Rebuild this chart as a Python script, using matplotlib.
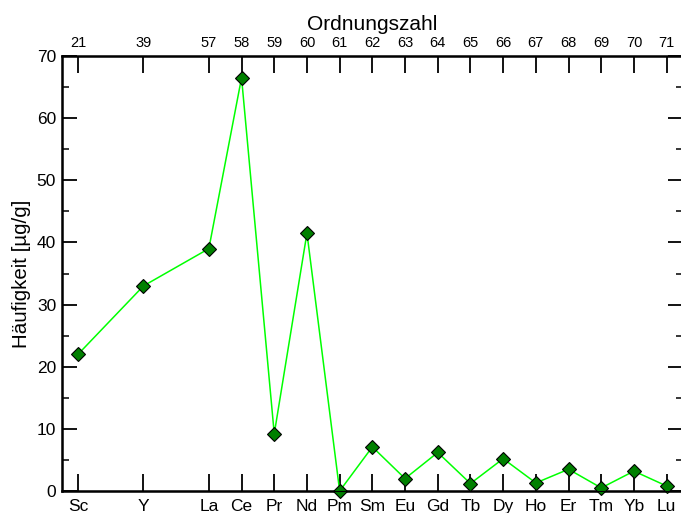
import matplotlib; matplotlib.use("Agg")
import matplotlib.pyplot as plt
from matplotlib.ticker import MultipleLocator

plt.rcParams["font.family"] = ["Liberation Sans", "DejaVu Sans"]

# data
elements = ["Sc", "Y", "La", "Ce", "Pr", "Nd", "Pm", "Sm", "Eu", "Gd", "Tb", "Dy", "Ho", "Er", "Tm", "Yb", "Lu"]
ordnungszahl = ["21", "39", "57", "58", "59", "60", "61", "62", "63", "64", "65", "66", "67", "68", "69", "70", "71"]
positions = [0, 2, 4, 5, 6, 7, 8, 9, 10, 11, 12, 13, 14, 15, 16, 17, 18]
haeufigkeit = [22, 33, 39, 66.5, 9.2, 41.5, 0, 7.1, 2.0, 6.2, 1.2, 5.2, 1.3, 3.5, 0.5, 3.2, 0.8]

fig = plt.figure(figsize=(6.81, 5.13), dpi=100)
W, H = 681, 513
x0, x1, y0, y1 = 61.7, 683, 491, 56
ax = fig.add_axes([x0/W, (H-y0)/H, (x1-x0)/W, (y0-y1)/H])

ax.plot(positions, haeufigkeit, color="#00ff00", lw=1.1, zorder=2)
ax.plot(positions, haeufigkeit, ls="none", marker="D", ms=7.3, mfc="#008000",
        mec="black", mew=0.8, zorder=3, clip_on=False)

ax.set_xlim(-0.5, 18.5)
ax.set_ylim(0, 70)
ax.set_xticks(positions)
ax.set_xticklabels(elements, fontsize=12.5)
ax.yaxis.set_major_locator(MultipleLocator(10))
ax.yaxis.set_minor_locator(MultipleLocator(5))
ax.tick_params(axis="y", which="major", direction="in", length=11, width=1.3,
               labelsize=12.5, left=True, right=True, pad=4)
ax.tick_params(axis="y", which="minor", direction="in", length=5, width=1.1,
               left=True, right=True)
ax.tick_params(axis="x", direction="in", length=12, width=1.3, pad=6, top=False)
ax.spines["right"].set_visible(False)
for s in ["left", "bottom", "top"]:
    ax.spines[s].set_linewidth(1.8)
ax.set_ylabel("Häufigkeit [µg/g]", fontsize=14.8, labelpad=4)

top = ax.twiny()
top.set_xlim(ax.get_xlim())
top.set_xticks(positions)
top.set_xticklabels(ordnungszahl, fontsize=10.5)
top.tick_params(axis="x", direction="in", length=12, width=1.3, pad=4)
top.spines["right"].set_visible(False)
top.set_xlabel("Ordnungszahl", fontsize=15, labelpad=5)

fig.savefig("out.png", dpi=100)
